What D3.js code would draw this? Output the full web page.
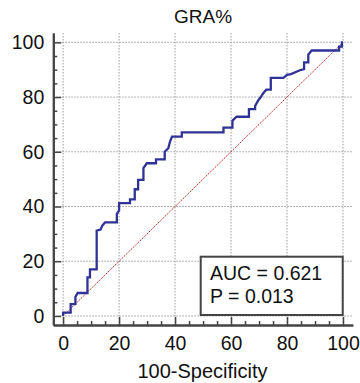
<!DOCTYPE html>
<html>
<head>
<meta charset="utf-8">
<script src="https://cdn.jsdelivr.net/npm/d3@7"></script>
<style>
  html, body { margin: 0; padding: 0; background: #fff; }
  svg { display: block; font-family: "Liberation Sans", Arial, sans-serif; }
</style>
</head>
<body>
<svg id="chart" width="360" height="383"></svg>
<script>
// ---- data ----
const title = "GRA%";
const xLabel = "100-Specificity";
const statLines = ["AUC = 0.621", "P = 0.013"];
const majorTicks = [0, 20, 40, 60, 80, 100];
const minorTicks = [5, 10, 15, 25, 30, 35, 45, 50, 55, 65, 70, 75, 85, 90, 95];
// ROC curve: 100-Specificity (x) and Sensitivity (y)
const rocX = [0, 0, 2.7, 2.7, 4.4, 4.4, 5.2, 8.7, 8.7, 9.6, 9.6, 12.0, 12.0, 13.4, 14.0, 15.0, 19.2, 19.2, 20.0, 20.0, 23.9, 23.9, 25.6, 25.6, 26.8, 26.8, 28.7, 28.7, 29.9, 33.2, 33.2, 36.3, 36.3, 37.6, 38.2, 38.9, 42.4, 42.4, 57.3, 57.3, 60.5, 60.5, 62.0, 66.4, 66.4, 68.6, 68.6, 69.6, 70.7, 71.5, 72.6, 74.2, 74.2, 78.7, 80.0, 81.4, 84.6, 86.1, 86.1, 87.6, 87.6, 88.8, 98.6, 98.6, 99.6, 99.6, 100];
const rocY = [0, 1.2, 1.2, 4.3, 4.3, 7.0, 8.4, 8.4, 14.1, 14.1, 17.0, 17.0, 31.2, 31.6, 33.0, 34.2, 34.2, 37.3, 38.5, 41.2, 41.2, 42.6, 42.6, 46.3, 46.3, 49.7, 49.7, 54.0, 55.8, 55.8, 57.2, 57.2, 60.0, 61.3, 63.7, 65.5, 65.5, 67.1, 67.1, 68.8, 68.8, 71.4, 72.8, 72.8, 75.6, 75.6, 76.7, 78.6, 80.1, 81.4, 82.7, 82.7, 87.0, 87.0, 88.1, 88.4, 89.8, 90.2, 92.7, 92.7, 95.5, 97.0, 97.0, 98.4, 98.4, 100, 100];
const diagX = [0, 100];
const diagY = [0, 100];

// ---- layout ----
const svg = d3.select("#chart");
const x = d3.scaleLinear().domain([-3.5, 103.5]).range([53.3, 352.8]);
const y = d3.scaleLinear().domain([-3.3, 103.4]).range([325, 33]);
const axisColor = "#444";

// grid
const grid = svg.append("g");
grid.selectAll("line.v").data(majorTicks).join("line")
  .attr("x1", d => x(d)).attr("x2", d => x(d))
  .attr("y1", y.range()[1]).attr("y2", y.range()[0])
  .attr("stroke", "#9a9a9a").attr("stroke-width", 1).attr("stroke-dasharray", "1.5,1.5");
grid.selectAll("line.h").data(majorTicks).join("line")
  .attr("y1", d => y(d)).attr("y2", d => y(d))
  .attr("x1", x.range()[0]).attr("x2", x.range()[1])
  .attr("stroke", "#9a9a9a").attr("stroke-width", 1).attr("stroke-dasharray", "1.5,1.5");

// diagonal reference
svg.append("path")
  .datum(diagX.map((d, i) => [d, diagY[i]]))
  .attr("d", d3.line().x(d => x(d[0])).y(d => y(d[1])))
  .attr("fill", "none").attr("stroke", "#b82020").attr("stroke-width", 1)
  .attr("stroke-dasharray", "1.5,1");

// ROC curve
svg.append("path")
  .datum(rocX.map((d, i) => [d, rocY[i]]))
  .attr("d", d3.line().x(d => x(d[0])).y(d => y(d[1])))
  .attr("fill", "none").attr("stroke", "#2f3397").attr("stroke-width", 2.3)
  .attr("stroke-linejoin", "miter");

// axes
function styleAxis(g) {
  g.select(".domain").attr("stroke", axisColor).attr("stroke-width", 2);
  g.selectAll(".tick line").attr("stroke", axisColor).attr("stroke-width", 1.5);
  g.selectAll(".tick text").attr("fill", "#111").attr("font-size", 19.5)
    .attr("font-family", "Liberation Sans, Arial, sans-serif");
}
const xMinor = svg.append("g").attr("transform", `translate(0,${y.range()[0]})`)
  .call(d3.axisBottom(x).tickValues(minorTicks).tickSize(-4).tickSizeOuter(0).tickFormat(""));
styleAxis(xMinor);
const yMinor = svg.append("g").attr("transform", `translate(${x.range()[0]},0)`)
  .call(d3.axisLeft(y).tickValues(minorTicks).tickSize(-4).tickSizeOuter(0).tickFormat(""));
styleAxis(yMinor);
const xAxis = svg.append("g").attr("transform", `translate(0,${y.range()[0]})`)
  .call(d3.axisBottom(x).tickValues(majorTicks).tickSize(-8).tickSizeOuter(0).tickPadding(11.5).tickFormat(d3.format("d")));
styleAxis(xAxis);
const yAxis = svg.append("g").attr("transform", `translate(${x.range()[0]},0)`)
  .call(d3.axisLeft(y).tickValues(majorTicks).tickSize(-8).tickSizeOuter(0).tickPadding(9).tickFormat(d3.format("d")));
styleAxis(yAxis);

// title and label
svg.append("text").attr("x", 203).attr("y", 22.5).attr("text-anchor", "middle")
  .attr("font-size", 19).attr("fill", "#111").text(title);
svg.append("text").attr("x", 202.5).attr("y", 378).attr("text-anchor", "middle")
  .attr("font-size", 20).attr("fill", "#111").text(xLabel);

// stats box
const box = svg.append("g");
box.append("rect").attr("x", 200.7).attr("y", 256.7).attr("width", 142).attr("height", 58.3)
  .attr("fill", "#fff").attr("stroke", axisColor).attr("stroke-width", 2);
box.selectAll("text").data(statLines).join("text")
  .attr("x", 210).attr("y", (d, i) => 280 + i * 23.3)
  .attr("font-size", 19.5).attr("fill", "#111").text(d => d);
</script>
</body>
</html>
